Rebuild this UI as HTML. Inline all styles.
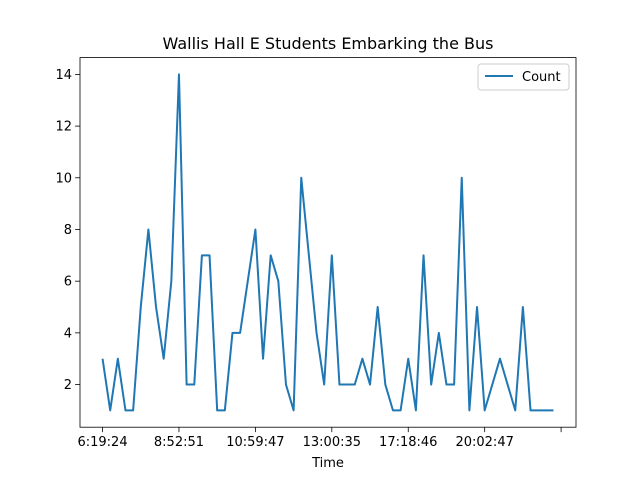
<!DOCTYPE html>
<html><head><meta charset="utf-8"><style>
html,body{margin:0;padding:0;background:#fff;}
svg{display:block;font-family:"DejaVu Sans","Liberation Sans",sans-serif;}
</style></head><body>
<svg id="chart" width="640" height="480" viewBox="0 0 640 480">
<rect width="640" height="480" fill="#fff"/>
<text x="328" y="49" text-anchor="middle" font-size="16" fill="#000">Wallis Hall E Students Embarking the Bus</text>
<g id="grid"></g>
<path id="series" fill="none" stroke="#1f77b4" stroke-width="2" stroke-linejoin="round"/>
<rect x="80" y="57.6" width="496" height="369.6" fill="none" stroke="#000" stroke-width="0.8"/>
<g id="axes"></g>
<text x="328" y="467" text-anchor="middle" font-size="13">Time</text>
<g>
<rect x="478" y="64" width="91" height="26" rx="3" fill="#fff" stroke="#ccc" stroke-width="1"/>
<line x1="485" y1="76" x2="513" y2="76" stroke="#1f77b4" stroke-width="2"/>
<text x="522" y="81" font-size="13">Count</text>
</g>
</svg>
<script>
const counts = [3,1,3,1,1,5,8,5,3,6,14,2,2,7,7,1,1,4,4,6,8,3,7,6,2,1,10,7,4,2,7,2,2,2,3,2,5,2,1,1,3,1,7,2,4,2,2,10,1,5,1,2,3,2,1,5,1,1,1,1];
const xTickIdx = [0,10,20,30,40,50,60];
const xTickLabels = ["6:19:24","8:52:51","10:59:47","13:00:35","17:18:46","20:02:47",""];
const yTicks = [2,4,6,8,10,12,14];

const L=80,R=576,T=57.6,B=427.2;
const xmin=-2.95, xmax=(counts.length-1)+2.95;
const ymin=0.35, ymax=14.65;
function xs(i){return L+(i-xmin)/(xmax-xmin)*(R-L);}
function ys(v){return B-(v-ymin)/(ymax-ymin)*(B-T);}
const NS="http://www.w3.org/2000/svg";
const path=document.getElementById('series');
path.setAttribute('d',counts.map((v,i)=>(i?'L':'M')+xs(i).toFixed(2)+' '+ys(v).toFixed(2)).join(' '));
const ax=document.getElementById('axes');
xTickIdx.forEach((t,k)=>{
  const x=xs(t);
  const l=document.createElementNS(NS,'line');
  l.setAttribute('x1',x);l.setAttribute('x2',x);l.setAttribute('y1',B);l.setAttribute('y2',B+4.9);
  l.setAttribute('stroke','#000');l.setAttribute('stroke-width','0.8');
  
  
  ax.appendChild(l);
  const tx=document.createElementNS(NS,'text');
  tx.setAttribute('x',x);tx.setAttribute('y',B+19);tx.setAttribute('text-anchor','middle');tx.setAttribute('font-size','13');
  tx.textContent=xTickLabels[k];
  
  
  ax.appendChild(tx);
});
yTicks.forEach(v=>{
  const y=ys(v);
  const l=document.createElementNS(NS,'line');
  l.setAttribute('x1',L-4.9);l.setAttribute('x2',L);l.setAttribute('y1',y);l.setAttribute('y2',y);
  l.setAttribute('stroke','#000');l.setAttribute('stroke-width','0.8');
  
  
  ax.appendChild(l);
  const tx=document.createElementNS(NS,'text');
  tx.setAttribute('x',L-8);tx.setAttribute('y',y+4.5);tx.setAttribute('text-anchor','end');tx.setAttribute('font-size','13');
  tx.textContent=v;
  
  
  ax.appendChild(tx);
});
</script>
</body></html>
